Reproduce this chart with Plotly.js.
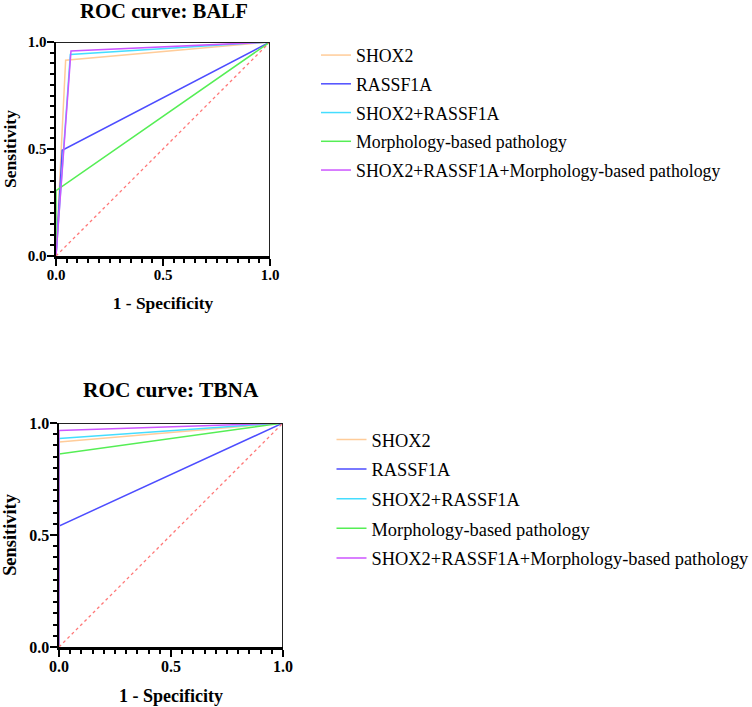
<!DOCTYPE html>
<html>
<head>
<meta charset="utf-8">
<script src="https://cdn.plot.ly/plotly-3.0.1.min.js"></script>
<style>
html,body{margin:0;padding:0;background:#fff;}
#wrap{position:relative;width:752px;height:707px;}
#chart,#legends{position:absolute;left:0;top:0;width:752px;height:707px;}
#legends{pointer-events:none;}
</style>
</head>
<body>
<div id="wrap"><div id="chart"></div><div id="legends"></div></div>
<script>
// ---- data ----
const seriesNames = ["SHOX2", "RASSF1A", "SHOX2+RASSF1A", "Morphology-based pathology", "SHOX2+RASSF1A+Morphology-based pathology"];
const seriesColors = ["#FFCC99", "#4D4DFF", "#44DDFF", "#55EE55", "#CC55FF"];

// BALF ROC points (1 - specificity, sensitivity)
const balfFpr = [
  [0, 0.045, 1],
  [0, 0.029, 1],
  [0, 0.067, 1],
  [0, 0.0, 1],
  [0, 0.070, 1]
];
const balfTpr = [
  [0, 0.915, 1],
  [0, 0.494, 1],
  [0, 0.942, 1],
  [0, 0.305, 1],
  [0, 0.958, 1]
];

// TBNA ROC points
const tbnaFpr = [
  [0, 0, 1],
  [0, 0, 1],
  [0, 0, 1],
  [0, 0, 1],
  [0, 0, 1]
];
const tbnaTpr = [
  [0, 0.915, 1],
  [0, 0.540, 1],
  [0, 0.931, 1],
  [0, 0.862, 1],
  [0, 0.967, 1]
];

const refLine = [0, 1];

const W = 752, H = 707;
const serif = "Liberation Serif";

// ---- chart traces (axes, curves) ----
const traces = [];
seriesNames.forEach((name, i) => {
  traces.push({x: balfFpr[i], y: balfTpr[i], xaxis: "x", yaxis: "y", type: "scatter", mode: "lines",
    name: name, line: {color: seriesColors[i], width: 1.5}});
});
traces.push({x: refLine, y: refLine, xaxis: "x", yaxis: "y", type: "scatter", mode: "lines",
  line: {color: "#FF7777", width: 1.3, dash: "dot"}});
seriesNames.forEach((name, i) => {
  traces.push({x: tbnaFpr[i], y: tbnaTpr[i], xaxis: "x2", yaxis: "y2", type: "scatter", mode: "lines",
    name: name, line: {color: seriesColors[i], width: 1.5}});
});
traces.push({x: refLine, y: refLine, xaxis: "x2", yaxis: "y2", type: "scatter", mode: "lines",
  line: {color: "#FF7777", width: 1.3, dash: "dot"}});

function axis(domain, anchor, fontSize, titleText, titleSize, standoff, labelShift) {
  return {
    domain: domain, anchor: anchor, range: [0, 1],
    showgrid: false, zeroline: false,
    showline: true, linewidth: 2.5, linecolor: "#000",
    ticks: "outside", ticklen: 7, tickwidth: 2, tickcolor: "#000",
    dtick: 0.5, tickmode: "linear", tick0: 0, tickformat: ".1f",
    ticklabelstandoff: labelShift,
    tickfont: {family: serif, size: fontSize, color: "#000", weight: "bold"},
    minor: {dtick: 0.05, ticks: "outside", ticklen: 4, tickwidth: 2, tickcolor: "#000"},
    title: {text: titleText, standoff: standoff, font: {family: serif, size: titleSize, color: "#000", weight: "bold"}}
  };
}

const layout = {
  width: W, height: H, showlegend: false,
  margin: {l: 0, r: 0, t: 0, b: 0, autoexpand: false},
  xaxis: axis([56 / W, 270 / W], "y", 15, "1 - Specificity", 17.4, 16, -4),
  yaxis: axis([1 - 256 / H, 1 - 42 / H], "x", 15, "Sensitivity", 17.5, 20, -3),
  xaxis2: axis([59 / W, 283 / W], "y2", 16, "1 - Specificity", 18, 16, -4),
  yaxis2: axis([1 - 647 / H, 1 - 423 / H], "x2", 16, "Sensitivity", 18.4, 20, -3),
  annotations: [
    {text: "ROC curve: BALF", xref: "paper", yref: "paper", x: 164 / W, y: 1 - 11 / H,
     xanchor: "center", yanchor: "middle", showarrow: false,
     font: {family: serif, size: 20.7, color: "#000", weight: "bold"}},
    {text: "ROC curve: TBNA", xref: "paper", yref: "paper", x: 170.5 / W, y: 1 - 390 / H,
     xanchor: "center", yanchor: "middle", showarrow: false,
     font: {family: serif, size: 21.4, color: "#000", weight: "bold"}}
  ],
  shapes: [
    {type: "line", xref: "x", yref: "y", x0: 0, x1: 1, y0: 1, y1: 1, line: {color: "#222", width: 2}},
    {type: "line", xref: "x", yref: "y", x0: 1, x1: 1, y0: 0, y1: 1, line: {color: "#222", width: 2}},
    {type: "line", xref: "x2", yref: "y2", x0: 0, x1: 1, y0: 1, y1: 1, line: {color: "#222", width: 2}},
    {type: "line", xref: "x2", yref: "y2", x0: 1, x1: 1, y0: 0, y1: 1, line: {color: "#222", width: 2}}
  ]
};

Plotly.newPlot("chart", traces, layout, {staticPlot: true});

// ---- legends (same series, drawn as two Plotly legends on a transparent overlay) ----
const legTraces = [];
seriesNames.forEach((name, i) => {
  legTraces.push({x: balfFpr[i], y: balfTpr[i], type: "scatter", mode: "lines", name: name,
    line: {color: seriesColors[i], width: 1.5}, legend: "legend", legendgroup: "a" + i});
});
seriesNames.forEach((name, i) => {
  legTraces.push({x: tbnaFpr[i], y: tbnaTpr[i], type: "scatter", mode: "lines", name: name,
    line: {color: seriesColors[i], width: 1.5}, legend: "legend2", legendgroup: "b" + i});
});
const legLayout = {
  width: W, height: H,
  margin: {l: 0, r: 0, t: 0, b: 0, autoexpand: false},
  paper_bgcolor: "rgba(0,0,0,0)", plot_bgcolor: "rgba(0,0,0,0)",
  xaxis: {visible: false, range: [10, 11], domain: [0, 0.01]},
  yaxis: {visible: false, range: [10, 11], domain: [0, 0.01]},
  legend: {
    x: 316 / W, xanchor: "left", y: 1 - 37 / H, yanchor: "top",
    font: {family: serif, size: 17.8, color: "#000"},
    bgcolor: "rgba(0,0,0,0)", traceorder: "grouped", tracegroupgap: 2.6
  },
  legend2: {
    x: 331.5 / W, xanchor: "left", y: 1 - 421 / H, yanchor: "top",
    font: {family: serif, size: 18.4, color: "#000"},
    bgcolor: "rgba(0,0,0,0)", traceorder: "grouped", tracegroupgap: 2.7
  }
};
Plotly.newPlot("legends", legTraces, legLayout, {staticPlot: true});
</script>
</body>
</html>
